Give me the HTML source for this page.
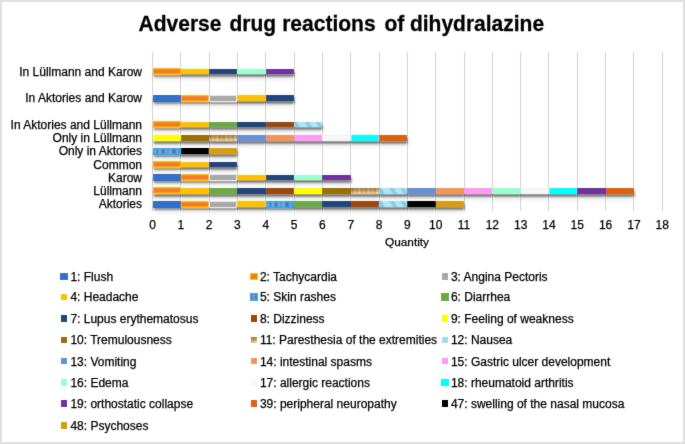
<!DOCTYPE html>
<html><head><meta charset="utf-8"><style>
*{margin:0;padding:0;box-sizing:border-box}
html,body{width:685px;height:444px;overflow:hidden;background:#fff}
body{position:relative;font-family:"Liberation Sans",sans-serif;color:#000}
.wrap{position:absolute;left:0;top:0;width:685px;height:444px;filter:url(#bl)}
.frame{position:absolute;left:0;top:0;width:685px;height:444px;border:2px solid #e0e0e0}
.t{position:absolute;white-space:nowrap;line-height:1;-webkit-text-stroke:0.25px #000}
.title{font-weight:bold;font-size:21px;color:#000;transform:scaleY(1.055);transform-origin:0 17.8px}
.gl{position:absolute;width:1px;background:#d4d4d4}
.bar{position:absolute}
.sh2{position:absolute;box-shadow:0.7px 2.7px 2.2px rgba(0,0,0,.5),0 5px 5px rgba(0,0,0,.1)}
.yl{font-size:12px;text-align:right}
.xl{font-size:12px}
.lg{font-size:12px}
.mk{position:absolute;width:7.7px;height:7.8px}
</style></head><body>
<svg width="0" height="0" style="position:absolute"><filter id="bl" x="0" y="0" width="100%" height="100%"><feConvolveMatrix order="3" kernelMatrix="0.1 0.6 0.1 0.6 6 0.6 0.1 0.6 0.1" divisor="8.8" edgeMode="duplicate" preserveAlpha="false"/></filter></svg>
<div class="wrap">
<div class="frame"></div>
<div class="t title" style="left:138.6px;top:12.8px">Adverse</div>
<div class="t title" style="left:229.5px;top:12.8px">drug</div>
<div class="t title" style="left:282.2px;top:12.8px">reactions</div>
<div class="t title" style="left:384.4px;top:12.8px">of</div>
<div class="t title" style="left:409.9px;top:12.8px">dihydralazine</div>
<div class="gl" style="left:152.00px;top:51.70px;height:159.10px"></div>
<div class="gl" style="left:180.32px;top:51.70px;height:159.10px"></div>
<div class="gl" style="left:208.64px;top:51.70px;height:159.10px"></div>
<div class="gl" style="left:236.96px;top:51.70px;height:159.10px"></div>
<div class="gl" style="left:265.28px;top:51.70px;height:159.10px"></div>
<div class="gl" style="left:293.60px;top:51.70px;height:159.10px"></div>
<div class="gl" style="left:321.92px;top:51.70px;height:159.10px"></div>
<div class="gl" style="left:350.24px;top:51.70px;height:159.10px"></div>
<div class="gl" style="left:378.56px;top:51.70px;height:159.10px"></div>
<div class="gl" style="left:406.88px;top:51.70px;height:159.10px"></div>
<div class="gl" style="left:435.20px;top:51.70px;height:159.10px"></div>
<div class="gl" style="left:463.52px;top:51.70px;height:159.10px"></div>
<div class="gl" style="left:491.84px;top:51.70px;height:159.10px"></div>
<div class="gl" style="left:520.16px;top:51.70px;height:159.10px"></div>
<div class="gl" style="left:548.48px;top:51.70px;height:159.10px"></div>
<div class="gl" style="left:576.80px;top:51.70px;height:159.10px"></div>
<div class="gl" style="left:605.12px;top:51.70px;height:159.10px"></div>
<div class="gl" style="left:633.44px;top:51.70px;height:159.10px"></div>
<div class="gl" style="left:661.76px;top:51.70px;height:159.10px"></div>
<div class="sh2" style="left:152.50px;top:201.47px;width:311.52px;height:5.40px"></div>
<div class="sh2" style="left:152.50px;top:188.21px;width:481.44px;height:5.40px"></div>
<div class="sh2" style="left:152.50px;top:174.95px;width:198.24px;height:5.40px"></div>
<div class="sh2" style="left:152.50px;top:161.70px;width:84.96px;height:5.40px"></div>
<div class="sh2" style="left:152.50px;top:148.44px;width:84.96px;height:5.40px"></div>
<div class="sh2" style="left:152.50px;top:135.18px;width:254.88px;height:5.40px"></div>
<div class="sh2" style="left:152.50px;top:121.92px;width:169.92px;height:5.40px"></div>
<div class="sh2" style="left:152.50px;top:95.40px;width:141.60px;height:5.40px"></div>
<div class="sh2" style="left:152.50px;top:68.89px;width:141.60px;height:5.40px"></div>
<div class="bar" style="left:152.50px;top:200.72px;width:28.32px;height:6.90px;background:#3370cc;box-shadow:inset 0 0 0 1px #2a6fc6"></div>
<div class="bar" style="left:180.82px;top:200.72px;width:28.32px;height:6.90px;background:#f07c2c;box-shadow:inset 0 1.2px #ffc000,inset 0 -1.6px #ffc000,inset 0.6px 0 #ffc000,inset -0.9px 0 #ffc000"></div>
<div class="bar" style="left:209.14px;top:200.72px;width:28.32px;height:6.90px;background:#a8a8a8;box-shadow:inset 0 0 0 1px #e6e6e6"></div>
<div class="bar" style="left:237.46px;top:201.47px;width:28.32px;height:5.40px;background:#ffc000;box-shadow:inset 0 0 0 1px #ffc000"></div>
<div class="bar" style="left:265.78px;top:200.72px;width:28.32px;height:6.90px;background:#4d6ab8;background-image:linear-gradient(90deg,#6280c8 0,#90a8e2 8%,#5470bc 16%,#98b0e6 24%,#6482c8 31%,#4e6cb8 38%,#8ca6e0 46%,#6684ca 54%,#96aee4 62%,#587abe 70%,#4c6ab6 78%,#88a2de 86%,#5e7cc4 94%,#7a96d6 100%);box-shadow:inset 0 0 0 1.6px #22b0e8"></div>
<div class="bar" style="left:294.10px;top:201.47px;width:28.32px;height:5.40px;background:#6aaa42;box-shadow:inset 0 0 0 1px #6aaa42"></div>
<div class="bar" style="left:322.42px;top:201.47px;width:28.32px;height:5.40px;background:#24447c;box-shadow:inset 0 0 0 1px #24447c"></div>
<div class="bar" style="left:350.74px;top:201.47px;width:28.32px;height:5.40px;background:#9c470f;box-shadow:inset 0 0 0 1px #9c470f"></div>
<div class="bar" style="left:379.06px;top:201.47px;width:28.32px;height:5.40px;background:#ade6f4;background-image:linear-gradient(60deg,rgba(0,0,0,0) 0,rgba(100,180,210,.7) 12%,rgba(0,0,0,0) 22%,rgba(0,0,0,0) 40%,rgba(100,180,210,.65) 52%,rgba(0,0,0,0) 62%,rgba(0,0,0,0) 75%,rgba(100,180,210,.6) 86%,rgba(0,0,0,0) 96%);"></div>
<div class="bar" style="left:407.38px;top:201.47px;width:28.32px;height:5.40px;background:#000000;box-shadow:inset 0 0 0 1px #000000"></div>
<div class="bar" style="left:435.70px;top:201.47px;width:28.32px;height:5.40px;background:#d89e0c;box-shadow:inset 0 0 0 1px #d89e0c"></div>
<div class="bar" style="left:152.50px;top:187.46px;width:28.32px;height:6.90px;background:#f07c2c;box-shadow:inset 0 1.2px #ffc000,inset 0 -1.6px #ffc000,inset 0.6px 0 #ffc000,inset -0.9px 0 #ffc000"></div>
<div class="bar" style="left:180.82px;top:188.21px;width:28.32px;height:5.40px;background:#ffc000;box-shadow:inset 0 0 0 1px #ffc000"></div>
<div class="bar" style="left:209.14px;top:188.21px;width:28.32px;height:5.40px;background:#6aaa42;box-shadow:inset 0 0 0 1px #6aaa42"></div>
<div class="bar" style="left:237.46px;top:188.21px;width:28.32px;height:5.40px;background:#24447c;box-shadow:inset 0 0 0 1px #24447c"></div>
<div class="bar" style="left:265.78px;top:188.21px;width:28.32px;height:5.40px;background:#9c470f;box-shadow:inset 0 0 0 1px #9c470f"></div>
<div class="bar" style="left:294.10px;top:188.21px;width:28.32px;height:5.40px;background:#ffff00;box-shadow:inset 0 0 0 1px #ffff00"></div>
<div class="bar" style="left:322.42px;top:188.21px;width:28.32px;height:5.40px;background:#9a7000;box-shadow:inset 0 0 0 1px #9a7000"></div>
<div class="bar" style="left:350.74px;top:188.21px;width:28.32px;height:5.40px;background:#c9a05e;background-image:linear-gradient(rgba(110,70,10,.45),rgba(110,70,10,.2) 45%,rgba(245,230,170,.35) 75%,rgba(245,230,170,.5)),linear-gradient(90deg,#cca462 0,#b48a46 7%,#dcbe84 14%,#c49858 22%,#e2c890 30%,#be924e 38%,#d8b87c 46%,#b68c48 54%,#e4cc94 62%,#c89e60 70%,#dcbc80 78%,#bc924e 86%,#e8d4a0 94%,#cca668 100%);"></div>
<div class="bar" style="left:379.06px;top:188.21px;width:28.32px;height:5.40px;background:#ade6f4;background-image:linear-gradient(60deg,rgba(0,0,0,0) 0,rgba(100,180,210,.7) 12%,rgba(0,0,0,0) 22%,rgba(0,0,0,0) 40%,rgba(100,180,210,.65) 52%,rgba(0,0,0,0) 62%,rgba(0,0,0,0) 75%,rgba(100,180,210,.6) 86%,rgba(0,0,0,0) 96%);"></div>
<div class="bar" style="left:407.38px;top:188.21px;width:28.32px;height:5.40px;background:#6690d8;box-shadow:inset 0 0 0 1px #6690d8"></div>
<div class="bar" style="left:435.70px;top:188.21px;width:28.32px;height:5.40px;background:#f29658;box-shadow:inset 0 0 0 1px #f29658"></div>
<div class="bar" style="left:464.02px;top:188.21px;width:28.32px;height:5.40px;background:#ff99f2;box-shadow:inset 0 0 0 1px #ff99f2"></div>
<div class="bar" style="left:492.34px;top:188.21px;width:28.32px;height:5.40px;background:#99ffcc;box-shadow:inset 0 0 0 1px #99ffcc"></div>
<div class="bar" style="left:520.66px;top:188.21px;width:28.32px;height:5.40px;background:#f8f8f8;box-shadow:inset 0 0 0 1px #f0f0f0"></div>
<div class="bar" style="left:548.98px;top:188.21px;width:28.32px;height:5.40px;background:#00ffff;box-shadow:inset 0 0 0 1px #00ffff"></div>
<div class="bar" style="left:577.30px;top:188.21px;width:28.32px;height:5.40px;background:#7030a0;box-shadow:inset 0 0 0 1px #7030a0"></div>
<div class="bar" style="left:605.62px;top:188.21px;width:28.32px;height:5.40px;background:#e0600e;box-shadow:inset 0 0 0 1px #e0600e"></div>
<div class="bar" style="left:152.50px;top:174.20px;width:28.32px;height:6.90px;background:#3370cc;box-shadow:inset 0 0 0 1px #2a6fc6"></div>
<div class="bar" style="left:180.82px;top:174.20px;width:28.32px;height:6.90px;background:#f07c2c;box-shadow:inset 0 1.2px #ffc000,inset 0 -1.6px #ffc000,inset 0.6px 0 #ffc000,inset -0.9px 0 #ffc000"></div>
<div class="bar" style="left:209.14px;top:174.20px;width:28.32px;height:6.90px;background:#a8a8a8;box-shadow:inset 0 0 0 1px #e6e6e6"></div>
<div class="bar" style="left:237.46px;top:174.95px;width:28.32px;height:5.40px;background:#ffc000;box-shadow:inset 0 0 0 1px #ffc000"></div>
<div class="bar" style="left:265.78px;top:174.95px;width:28.32px;height:5.40px;background:#24447c;box-shadow:inset 0 0 0 1px #24447c"></div>
<div class="bar" style="left:294.10px;top:174.95px;width:28.32px;height:5.40px;background:#99ffcc;box-shadow:inset 0 0 0 1px #99ffcc"></div>
<div class="bar" style="left:322.42px;top:174.95px;width:28.32px;height:5.40px;background:#7030a0;box-shadow:inset 0 0 0 1px #7030a0"></div>
<div class="bar" style="left:152.50px;top:160.95px;width:28.32px;height:6.90px;background:#f07c2c;box-shadow:inset 0 1.2px #ffc000,inset 0 -1.6px #ffc000,inset 0.6px 0 #ffc000,inset -0.9px 0 #ffc000"></div>
<div class="bar" style="left:180.82px;top:161.70px;width:28.32px;height:5.40px;background:#ffc000;box-shadow:inset 0 0 0 1px #ffc000"></div>
<div class="bar" style="left:209.14px;top:161.70px;width:28.32px;height:5.40px;background:#24447c;box-shadow:inset 0 0 0 1px #24447c"></div>
<div class="bar" style="left:152.50px;top:147.69px;width:28.32px;height:6.90px;background:#4d6ab8;background-image:linear-gradient(90deg,#6280c8 0,#90a8e2 8%,#5470bc 16%,#98b0e6 24%,#6482c8 31%,#4e6cb8 38%,#8ca6e0 46%,#6684ca 54%,#96aee4 62%,#587abe 70%,#4c6ab6 78%,#88a2de 86%,#5e7cc4 94%,#7a96d6 100%);box-shadow:inset 0 0 0 1.6px #22b0e8"></div>
<div class="bar" style="left:180.82px;top:148.44px;width:28.32px;height:5.40px;background:#000000;box-shadow:inset 0 0 0 1px #000000"></div>
<div class="bar" style="left:209.14px;top:148.44px;width:28.32px;height:5.40px;background:#d89e0c;box-shadow:inset 0 0 0 1px #d89e0c"></div>
<div class="bar" style="left:152.50px;top:135.18px;width:28.32px;height:5.40px;background:#ffff00;box-shadow:inset 0 0 0 1px #ffff00"></div>
<div class="bar" style="left:180.82px;top:135.18px;width:28.32px;height:5.40px;background:#9a7000;box-shadow:inset 0 0 0 1px #9a7000"></div>
<div class="bar" style="left:209.14px;top:135.18px;width:28.32px;height:5.40px;background:#c9a05e;background-image:linear-gradient(rgba(110,70,10,.45),rgba(110,70,10,.2) 45%,rgba(245,230,170,.35) 75%,rgba(245,230,170,.5)),linear-gradient(90deg,#cca462 0,#b48a46 7%,#dcbe84 14%,#c49858 22%,#e2c890 30%,#be924e 38%,#d8b87c 46%,#b68c48 54%,#e4cc94 62%,#c89e60 70%,#dcbc80 78%,#bc924e 86%,#e8d4a0 94%,#cca668 100%);"></div>
<div class="bar" style="left:237.46px;top:135.18px;width:28.32px;height:5.40px;background:#6690d8;box-shadow:inset 0 0 0 1px #6690d8"></div>
<div class="bar" style="left:265.78px;top:135.18px;width:28.32px;height:5.40px;background:#f29658;box-shadow:inset 0 0 0 1px #f29658"></div>
<div class="bar" style="left:294.10px;top:135.18px;width:28.32px;height:5.40px;background:#ff99f2;box-shadow:inset 0 0 0 1px #ff99f2"></div>
<div class="bar" style="left:322.42px;top:135.18px;width:28.32px;height:5.40px;background:#f8f8f8;box-shadow:inset 0 0 0 1px #f0f0f0"></div>
<div class="bar" style="left:350.74px;top:135.18px;width:28.32px;height:5.40px;background:#00ffff;box-shadow:inset 0 0 0 1px #00ffff"></div>
<div class="bar" style="left:379.06px;top:135.18px;width:28.32px;height:5.40px;background:#e0600e;box-shadow:inset 0 0 0 1px #e0600e"></div>
<div class="bar" style="left:152.50px;top:121.17px;width:28.32px;height:6.90px;background:#f07c2c;box-shadow:inset 0 1.2px #ffc000,inset 0 -1.6px #ffc000,inset 0.6px 0 #ffc000,inset -0.9px 0 #ffc000"></div>
<div class="bar" style="left:180.82px;top:121.92px;width:28.32px;height:5.40px;background:#ffc000;box-shadow:inset 0 0 0 1px #ffc000"></div>
<div class="bar" style="left:209.14px;top:121.92px;width:28.32px;height:5.40px;background:#6aaa42;box-shadow:inset 0 0 0 1px #6aaa42"></div>
<div class="bar" style="left:237.46px;top:121.92px;width:28.32px;height:5.40px;background:#24447c;box-shadow:inset 0 0 0 1px #24447c"></div>
<div class="bar" style="left:265.78px;top:121.92px;width:28.32px;height:5.40px;background:#9c470f;box-shadow:inset 0 0 0 1px #9c470f"></div>
<div class="bar" style="left:294.10px;top:121.92px;width:28.32px;height:5.40px;background:#ade6f4;background-image:linear-gradient(60deg,rgba(0,0,0,0) 0,rgba(100,180,210,.7) 12%,rgba(0,0,0,0) 22%,rgba(0,0,0,0) 40%,rgba(100,180,210,.65) 52%,rgba(0,0,0,0) 62%,rgba(0,0,0,0) 75%,rgba(100,180,210,.6) 86%,rgba(0,0,0,0) 96%);"></div>
<div class="bar" style="left:152.50px;top:94.65px;width:28.32px;height:6.90px;background:#3370cc;box-shadow:inset 0 0 0 1px #2a6fc6"></div>
<div class="bar" style="left:180.82px;top:94.65px;width:28.32px;height:6.90px;background:#f07c2c;box-shadow:inset 0 1.2px #ffc000,inset 0 -1.6px #ffc000,inset 0.6px 0 #ffc000,inset -0.9px 0 #ffc000"></div>
<div class="bar" style="left:209.14px;top:94.65px;width:28.32px;height:6.90px;background:#a8a8a8;box-shadow:inset 0 0 0 1px #e6e6e6"></div>
<div class="bar" style="left:237.46px;top:95.40px;width:28.32px;height:5.40px;background:#ffc000;box-shadow:inset 0 0 0 1px #ffc000"></div>
<div class="bar" style="left:265.78px;top:95.40px;width:28.32px;height:5.40px;background:#24447c;box-shadow:inset 0 0 0 1px #24447c"></div>
<div class="bar" style="left:152.50px;top:68.14px;width:28.32px;height:6.90px;background:#f07c2c;box-shadow:inset 0 1.2px #ffc000,inset 0 -1.6px #ffc000,inset 0.6px 0 #ffc000,inset -0.9px 0 #ffc000"></div>
<div class="bar" style="left:180.82px;top:68.89px;width:28.32px;height:5.40px;background:#ffc000;box-shadow:inset 0 0 0 1px #ffc000"></div>
<div class="bar" style="left:209.14px;top:68.89px;width:28.32px;height:5.40px;background:#24447c;box-shadow:inset 0 0 0 1px #24447c"></div>
<div class="bar" style="left:237.46px;top:68.89px;width:28.32px;height:5.40px;background:#99ffcc;box-shadow:inset 0 0 0 1px #99ffcc"></div>
<div class="bar" style="left:265.78px;top:68.89px;width:28.32px;height:5.40px;background:#7030a0;box-shadow:inset 0 0 0 1px #7030a0"></div>
<div class="t yl" style="right:543.00px;top:198.27px">Aktories</div>
<div class="t yl" style="right:543.00px;top:185.01px">Lüllmann</div>
<div class="t yl" style="right:543.00px;top:171.75px">Karow</div>
<div class="t yl" style="right:543.00px;top:158.50px">Common</div>
<div class="t yl" style="right:543.00px;top:145.24px">Only in Aktories</div>
<div class="t yl" style="right:543.00px;top:131.98px">Only in Lüllmann</div>
<div class="t yl" style="right:543.00px;top:118.72px">In Aktories and Lüllmann</div>
<div class="t yl" style="right:543.00px;top:92.20px">In Aktories and Karow</div>
<div class="t yl" style="right:543.00px;top:65.69px">In Lüllmann and Karow</div>
<div class="t xl" style="left:132.50px;width:40px;text-align:center;top:218.60px">0</div>
<div class="t xl" style="left:160.82px;width:40px;text-align:center;top:218.60px">1</div>
<div class="t xl" style="left:189.14px;width:40px;text-align:center;top:218.60px">2</div>
<div class="t xl" style="left:217.46px;width:40px;text-align:center;top:218.60px">3</div>
<div class="t xl" style="left:245.78px;width:40px;text-align:center;top:218.60px">4</div>
<div class="t xl" style="left:274.10px;width:40px;text-align:center;top:218.60px">5</div>
<div class="t xl" style="left:302.42px;width:40px;text-align:center;top:218.60px">6</div>
<div class="t xl" style="left:330.74px;width:40px;text-align:center;top:218.60px">7</div>
<div class="t xl" style="left:359.06px;width:40px;text-align:center;top:218.60px">8</div>
<div class="t xl" style="left:387.38px;width:40px;text-align:center;top:218.60px">9</div>
<div class="t xl" style="left:415.70px;width:40px;text-align:center;top:218.60px">10</div>
<div class="t xl" style="left:444.02px;width:40px;text-align:center;top:218.60px">11</div>
<div class="t xl" style="left:472.34px;width:40px;text-align:center;top:218.60px">12</div>
<div class="t xl" style="left:500.66px;width:40px;text-align:center;top:218.60px">13</div>
<div class="t xl" style="left:528.98px;width:40px;text-align:center;top:218.60px">14</div>
<div class="t xl" style="left:557.30px;width:40px;text-align:center;top:218.60px">15</div>
<div class="t xl" style="left:585.62px;width:40px;text-align:center;top:218.60px">16</div>
<div class="t xl" style="left:613.94px;width:40px;text-align:center;top:218.60px">17</div>
<div class="t xl" style="left:642.26px;width:40px;text-align:center;top:218.60px">18</div>
<div class="t xl" style="left:367px;width:80px;text-align:center;top:237.00px;font-size:11.8px">Quantity</div>
<div class="mk" style="left:60.05px;top:272.60px;width:7.6px;height:7.6px;background:#4568c6;box-shadow:inset 0 0 0 1px #2a7ad8"></div>
<div class="t lg" style="left:70.40px;top:270.60px">1: Flush</div>
<div class="mk" style="left:250.45px;top:272.60px;width:7.6px;height:7.6px;background:#f07c2c;box-shadow:inset 0 0 0 1px #ffc000"></div>
<div class="t lg" style="left:259.90px;top:270.60px">2: Tachycardia</div>
<div class="mk" style="left:441.90px;top:273.25px;width:6.3px;height:6.3px;background:#a8a8a8;box-shadow:inset 0 0 0 0px #e6e6e6"></div>
<div class="t lg" style="left:450.90px;top:270.60px">3: Angina Pectoris</div>
<div class="mk" style="left:60.70px;top:293.95px;width:6.3px;height:6.3px;background:#ffc000;box-shadow:inset 0 0 0 0px #ffc000"></div>
<div class="t lg" style="left:70.40px;top:291.30px">4: Headache</div>
<div class="mk" style="left:250.45px;top:293.30px;width:7.6px;height:7.6px;background:#4d6ab8;background-image:linear-gradient(90deg,#6280c8 0,#90a8e2 8%,#5470bc 16%,#98b0e6 24%,#6482c8 31%,#4e6cb8 38%,#8ca6e0 46%,#6684ca 54%,#96aee4 62%,#587abe 70%,#4c6ab6 78%,#88a2de 86%,#5e7cc4 94%,#7a96d6 100%);box-shadow:inset 0 0 0 1px #22b0e8"></div>
<div class="t lg" style="left:259.90px;top:291.30px">5: Skin rashes</div>
<div class="mk" style="left:441.25px;top:293.30px;width:7.6px;height:7.6px;background:#6aaa42;box-shadow:inset 0 0 0 1px #6aaa42"></div>
<div class="t lg" style="left:450.90px;top:291.30px">6: Diarrhea</div>
<div class="mk" style="left:60.70px;top:315.25px;width:6.3px;height:6.3px;background:#24447c;box-shadow:inset 0 0 0 0px #24447c"></div>
<div class="t lg" style="left:70.40px;top:312.60px">7: Lupus erythematosus</div>
<div class="mk" style="left:251.10px;top:315.25px;width:6.3px;height:6.3px;background:#9c470f;box-shadow:inset 0 0 0 0px #9c470f"></div>
<div class="t lg" style="left:259.90px;top:312.60px">8: Dizziness</div>
<div class="mk" style="left:441.90px;top:315.25px;width:6.3px;height:6.3px;background:#ffff00;box-shadow:inset 0 0 0 0px #ffff00"></div>
<div class="t lg" style="left:450.90px;top:312.60px">9: Feeling of weakness</div>
<div class="mk" style="left:60.70px;top:336.85px;width:6.3px;height:6.3px;background:#9a7000;box-shadow:inset 0 0 0 0px #9a7000"></div>
<div class="t lg" style="left:70.40px;top:334.20px">10: Tremulousness</div>
<div class="mk" style="left:251.10px;top:336.85px;width:6.3px;height:6.3px;background:#c9a05e;background-image:linear-gradient(rgba(110,70,10,.45),rgba(110,70,10,.2) 45%,rgba(245,230,170,.35) 75%,rgba(245,230,170,.5)),linear-gradient(90deg,#cca462 0,#b48a46 7%,#dcbe84 14%,#c49858 22%,#e2c890 30%,#be924e 38%,#d8b87c 46%,#b68c48 54%,#e4cc94 62%,#c89e60 70%,#dcbc80 78%,#bc924e 86%,#e8d4a0 94%,#cca668 100%);box-shadow:inset 0 0 0 0px #c9a05e"></div>
<div class="t lg" style="left:259.90px;top:334.20px">11: Paresthesia of the extremities</div>
<div class="mk" style="left:441.90px;top:336.85px;width:6.3px;height:6.3px;background:#ade6f4;background-image:linear-gradient(60deg,rgba(0,0,0,0) 0,rgba(100,180,210,.7) 12%,rgba(0,0,0,0) 22%,rgba(0,0,0,0) 40%,rgba(100,180,210,.65) 52%,rgba(0,0,0,0) 62%,rgba(0,0,0,0) 75%,rgba(100,180,210,.6) 86%,rgba(0,0,0,0) 96%);box-shadow:inset 0 0 0 0px #ade6f4"></div>
<div class="t lg" style="left:450.90px;top:334.20px">12: Nausea</div>
<div class="mk" style="left:60.70px;top:358.15px;width:6.3px;height:6.3px;background:#6690d8;box-shadow:inset 0 0 0 0px #6690d8"></div>
<div class="t lg" style="left:70.40px;top:355.50px">13: Vomiting</div>
<div class="mk" style="left:251.10px;top:358.15px;width:6.3px;height:6.3px;background:#f29658;box-shadow:inset 0 0 0 0px #f29658"></div>
<div class="t lg" style="left:259.90px;top:355.50px">14: intestinal spasms</div>
<div class="mk" style="left:441.90px;top:358.15px;width:6.3px;height:6.3px;background:#ff99f2;box-shadow:inset 0 0 0 0px #ff99f2"></div>
<div class="t lg" style="left:450.90px;top:355.50px">15: Gastric ulcer development</div>
<div class="mk" style="left:60.70px;top:379.35px;width:6.3px;height:6.3px;background:#99ffcc;box-shadow:inset 0 0 0 0px #99ffcc"></div>
<div class="t lg" style="left:70.40px;top:376.70px">16: Edema</div>
<div class="mk" style="left:251.10px;top:379.35px;width:6.3px;height:6.3px;background:#f8f8f8;box-shadow:inset 0 0 0 0px #f0f0f0"></div>
<div class="t lg" style="left:259.90px;top:376.70px">17: allergic reactions</div>
<div class="mk" style="left:441.25px;top:378.70px;width:7.6px;height:7.6px;background:#00ffff;box-shadow:inset 0 0 0 1px #00ffff"></div>
<div class="t lg" style="left:450.90px;top:376.70px">18: rheumatoid arthritis</div>
<div class="mk" style="left:60.70px;top:400.25px;width:6.3px;height:6.3px;background:#7030a0;box-shadow:inset 0 0 0 0px #7030a0"></div>
<div class="t lg" style="left:70.40px;top:397.60px">19: orthostatic collapse</div>
<div class="mk" style="left:251.10px;top:400.25px;width:6.3px;height:6.3px;background:#e0600e;box-shadow:inset 0 0 0 0px #e0600e"></div>
<div class="t lg" style="left:259.90px;top:397.60px">39: peripheral neuropathy</div>
<div class="mk" style="left:441.90px;top:400.25px;width:6.3px;height:6.3px;background:#000000;box-shadow:inset 0 0 0 0px #000000"></div>
<div class="t lg" style="left:450.90px;top:397.60px">47: swelling of the nasal mucosa</div>
<div class="mk" style="left:60.70px;top:422.35px;width:6.3px;height:6.3px;background:#d89e0c;box-shadow:inset 0 0 0 0px #d89e0c"></div>
<div class="t lg" style="left:70.40px;top:419.70px">48: Psychoses</div>
</div></body></html>
